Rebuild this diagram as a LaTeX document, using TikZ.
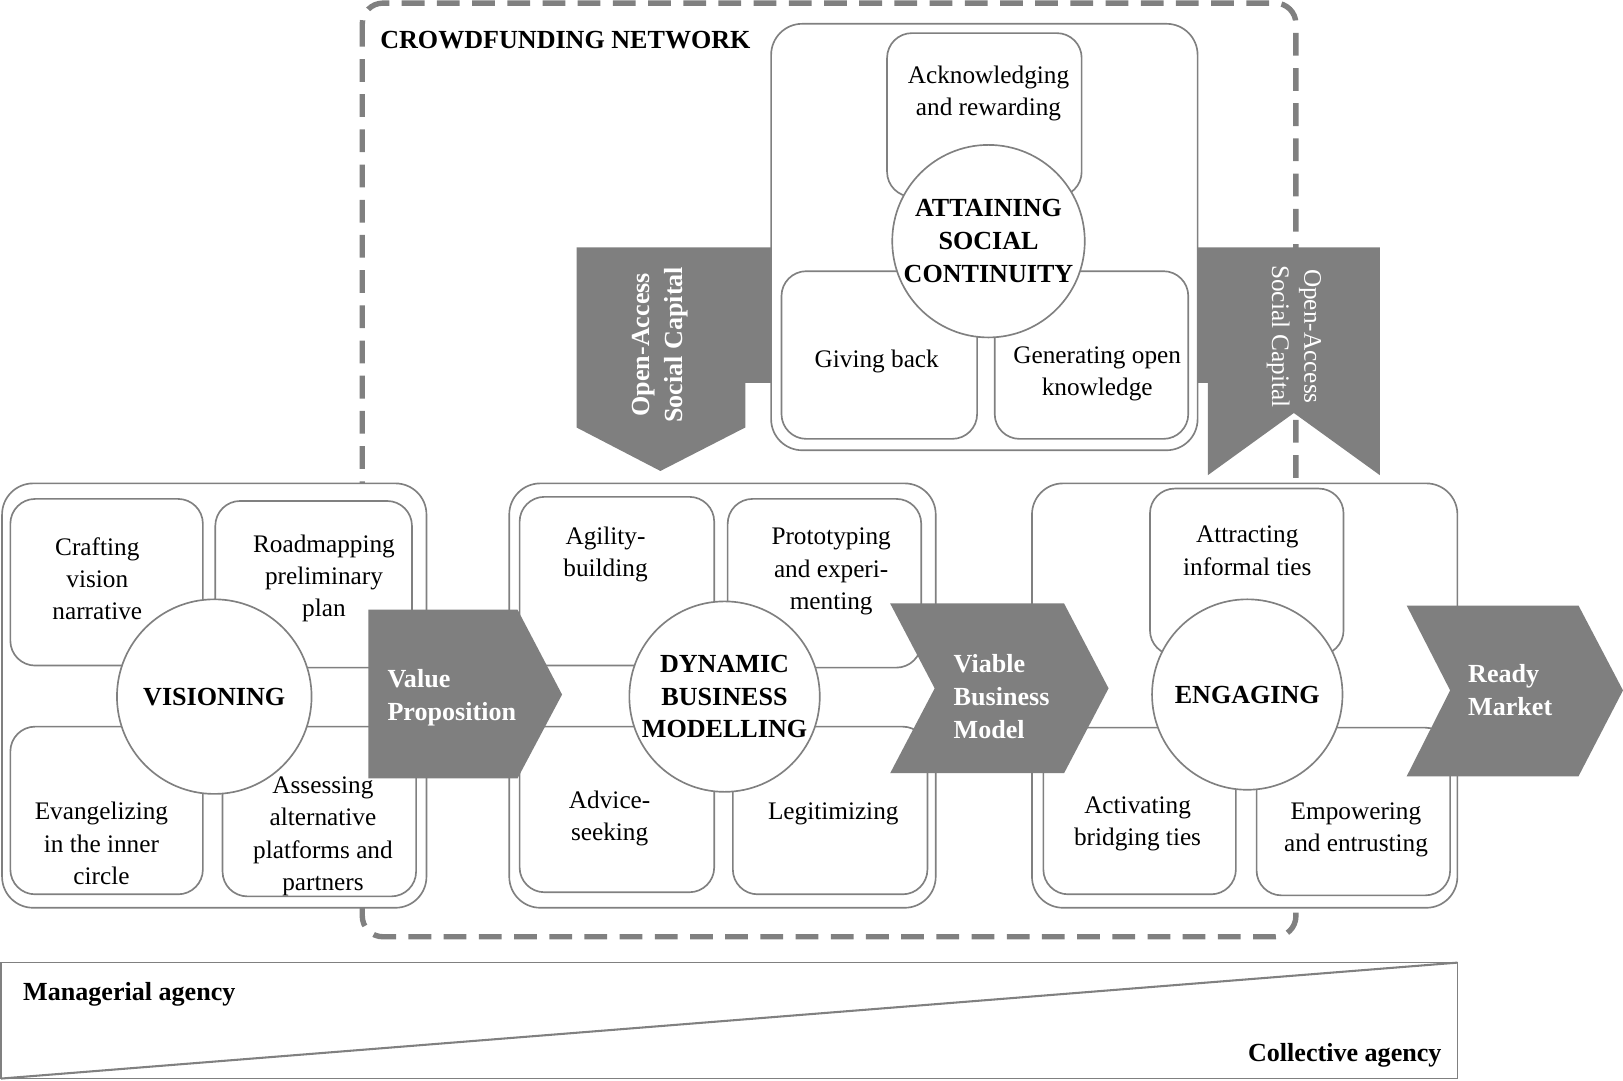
\documentclass[tikz,border=0pt]{standalone}
\usepackage{fontspec}
\setmainfont{Liberation Serif}
\definecolor{lg}{RGB}{128,128,128}
\definecolor{ag}{RGB}{127,127,127}
\newcommand\rtext{\fontsize{12.2pt}{15.6pt}\selectfont}
\newcommand\btext{\fontsize{12.6pt}{15.8pt}\selectfont\bfseries}
\begin{document}
\begin{tikzpicture}[x=0.5pt,y=-0.5pt,
  grp/.style={draw=lg, line width=0.8pt, fill=white, rounded corners=15pt},
  ibox/.style={draw=lg, line width=0.8pt, fill=white, rounded corners=12pt},
  circ/.style={draw=lg, line width=0.8pt, fill=white, circle, inner sep=0pt, font=\btext, align=center},
  arr/.style={fill=ag},
  lbl/.style={font=\rtext, align=center, inner sep=0pt},
  blbl/.style={font=\btext, align=center, inner sep=0pt},
  wlbl/.style={font=\btext, text=white, align=left, inner sep=0pt},
  dashbox/.style={draw=lg, line width=2.6pt, dash pattern=on 11pt off 6pt, rounded corners=10pt},
]
\useasboundingbox (0,0) rectangle (1568,1044);

% crowdfunding network
\draw[dashbox] (350,3) rectangle (1252,905);
\node[blbl, anchor=west] (cfn) at (367,39) {CROWDFUNDING NETWORK};

% open access arrows
\fill[arr] (557,239) -- (745,239) -- (745,370) -- (720,370) -- (720,413) -- (638,455) -- (557,413) -- cycle;
\fill[arr] (1157,239) -- (1333,239) -- (1333,459) -- (1250,399) -- (1167,459) -- (1167,370) -- (1157,370) -- cycle;
\node[font=\btext, text=white, align=center, inner sep=0pt, rotate=90] (oa1) at (638,333) {Open-Access\\Social Capital};
\node[font=\rtext, text=white, align=center, inner sep=0pt, rotate=-90] (oa2) at (1250,325) {Open-Access\\Social Capital};

% attaining social continuity
\draw[grp] (745,23) rectangle (1157,435);
\draw[ibox] (857,32) rectangle (1045,190);
\draw[ibox] (755,262) rectangle (944,424);
\draw[ibox] (961,262) rectangle (1148,424);
\node[circ, minimum size=93pt] (asc) at (955,233) {ATTAINING\\SOCIAL\\CONTINUITY};
\node[lbl] (ack) at (955,90) {Acknowledging\\and rewarding};
\node[lbl] (give) at (847,349) {Giving back};
\node[lbl] (gen) at (1060,361) {Generating open\\knowledge};

% visioning
\draw[grp] (2,467) rectangle (412,877);
\draw[ibox] (10,482) rectangle (196,643);
\draw[ibox] (208,484) rectangle (398,645);
\draw[ibox] (10,702) rectangle (196,864);
\draw[ibox] (215,702) rectangle (402,866);
\node[circ, minimum size=94pt] (vis) at (207,673) {VISIONING};
\node[lbl] (craft) at (94,559) {Crafting\\vision\\narrative};
\node[lbl] (road) at (313,559) {Roadmapping\\preliminary\\plan};
\node[lbl] (evan) at (98,815) {Evangelizing\\in the inner\\circle};
\node[lbl] (assess) at (312,808) {Assessing\\alternative\\platforms and\\partners};

% dynamic business modelling
\draw[grp] (492,467) rectangle (904,877);
\draw[ibox] (502,480) rectangle (690,643);
\draw[ibox] (703,482) rectangle (890,645);
\draw[ibox] (502,702) rectangle (690,862);
\draw[ibox] (708,702) rectangle (896,864);
\node[circ, minimum size=92pt] (dbm) at (700,673) {DYNAMIC\\BUSINESS\\MODELLING};
\node[lbl] (agil) at (585,536) {Agility-\\building};
\node[lbl] (proto) at (803,552) {Prototyping\\and experi-\\menting};
\node[lbl] (advice) at (589,791) {Advice-\\seeking};
\node[lbl] (legit) at (805,786) {Legitimizing};

% engaging
\draw[grp] (997,467) rectangle (1408,877);
\draw[ibox] (1111,472) rectangle (1298,633);
\draw[ibox] (1008,703) rectangle (1194,864);
\draw[ibox] (1214,703) rectangle (1401,865);
\node[circ, minimum size=92pt] (eng) at (1205,671) {ENGAGING};
\node[lbl] (attr) at (1205,532) {Attracting\\informal ties};
\node[lbl] (activ) at (1099,796) {Activating\\bridging ties};
\node[lbl] (empow) at (1310,802) {Empowering\\and entrusting};

% horizontal arrows
\fill[arr] (356,589) -- (500,589) -- (543,671) -- (500,752) -- (356,752) -- cycle;
\node[wlbl, anchor=west] (vp) at (374,674) {Value\\Proposition};
\fill[arr] (860,583) -- (1028,583) -- (1071,665) -- (1028,747) -- (860,747) -- (903,665) -- cycle;
\node[wlbl, anchor=west] (vbm) at (921,673) {Viable\\Business\\Model};
\fill[arr] (1359,585) -- (1525,585) -- (1568,667) -- (1525,750) -- (1359,750) -- (1401,667) -- cycle;
\node[wlbl, anchor=west] (rm) at (1418,667) {Ready\\Market};

% agency band
\draw[lg, line width=0.8pt] (1,930) rectangle (1408,1042);
\coordinate (bl) at (1,1042);
\coordinate (tr) at (1408,930);
\draw[lg, line width=1pt] (bl) -- (tr);
\node[blbl, anchor=west] (mgr) at (22,961) {Managerial agency};
\node[blbl, anchor=east] (coll) at (1393,1020) {Collective agency};
\end{tikzpicture}
\end{document}
